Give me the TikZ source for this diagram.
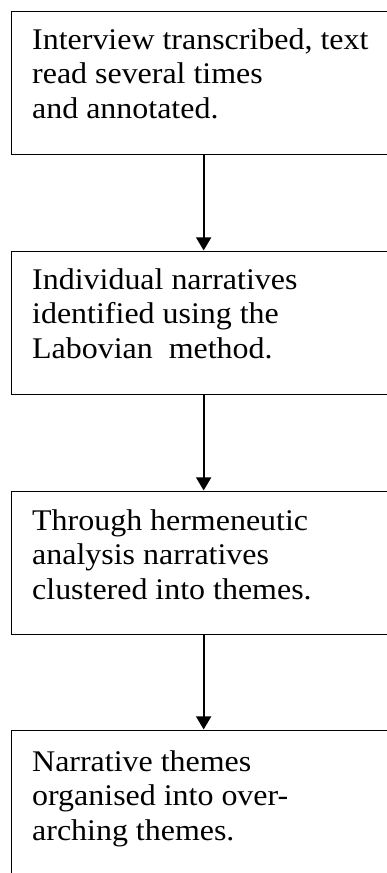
\documentclass[tikz,border=0pt]{standalone}
\usepackage{fontspec}
\setmainfont[FakeStretch=1.065]{Liberation Serif}
\usetikzlibrary{arrows.meta,positioning}

\begin{document}
\begin{tikzpicture}[x=1pt, y=1pt,
      stage/.style={draw, line width=1.3pt, anchor=north west,
                    minimum width=384pt, inner sep=0pt},
      txt/.style={anchor=north west, inner sep=0pt, align=left,
                  font=\fontsize{30}{34.5}\selectfont},
      arr/.style={-{Triangle[width=15pt, length=13pt]}, line width=1.8pt, shorten >=0.6pt}
  ]
    \useasboundingbox (0,0) rectangle (387,-873);
    \clip (0,0) rectangle (387,-873);
    \node[stage, minimum height=143pt] (b1) at (11,-11) {};
    \node[stage, minimum height=143pt] (b2) at (11,-251) {};
    \node[stage, minimum height=143pt] (b3) at (11,-491) {};
    \node[stage, minimum height=200pt] (b4) at (11,-730) {};
    \node[txt, below right=17pt and 21pt of b1.north west] (t1) {Interview transcribed, text\\read several times\\and annotated.};
    \node[txt, below right=17pt and 21pt of b2.north west] (t2) {Individual narratives\\identified using the\\Labovian\ \ method.};
    \node[txt, below right=18pt and 21pt of b3.north west] (t3) {Through hermeneutic\\analysis narratives\\clustered into themes.};
    \node[txt, below right=20pt and 21pt of b4.north west] (t4) {Narrative themes\\organised into over-\\arching themes.};
    \draw[arr] (b1.south) -- (b2.north);
    \draw[arr] (b2.south) -- (b3.north);
    \draw[arr] (b3.south) -- (b4.north);
  \end{tikzpicture}
\end{document}
